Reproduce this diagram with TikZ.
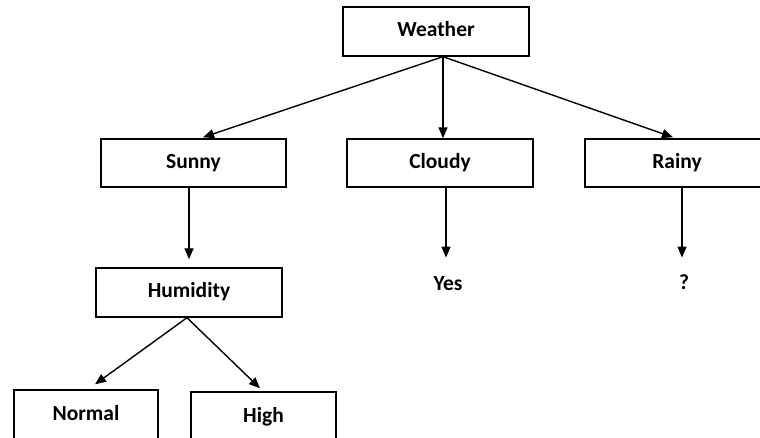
\documentclass[tikz,border=0pt]{standalone}
\usepackage{fontspec}
\setmainfont{Carlito}
\usetikzlibrary{arrows.meta}

\tikzset{
  box/.style={draw, line width=1.4pt, inner sep=0pt,
    font=\fontsize{21.5}{25}\selectfont\bfseries,
    text height=13.5pt, text depth=3pt},
  leaf/.style={inner sep=0pt,
    font=\fontsize{21.5}{25}\selectfont\bfseries,
    text height=13.5pt, text depth=3pt},
  arr/.style={line width=1.4pt, -{Triangle[length=11pt,width=9pt]}}
}

\begin{document}
\begin{tikzpicture}[x=1pt,y=-1pt]
  \useasboundingbox (0,0) rectangle (760,438);

  % decision nodes
  \node[box, minimum width=186pt, minimum height=49pt] (Weather)  at (436,31.5) {Weather};
  \node[box, minimum width=185pt, minimum height=48pt] (Sunny)    at (193.5,163) {Sunny};
  \node[box, minimum width=186pt, minimum height=48pt] (Cloudy)   at (440,163) {Cloudy};
  \node[box, minimum width=184pt, minimum height=48pt] (Rainy)    at (677,163) {Rainy};
  \node[box, minimum width=186pt, minimum height=49pt] (Humidity) at (189,292.5) {Humidity};
  \node[box, minimum width=144pt, minimum height=50pt] (Normal)   at (86,415) {Normal};
  \node[box, minimum width=145pt, minimum height=50pt] (High)     at (263.5,417) {High};

  % outcomes
  \node[leaf] (Yes)     at (448,285.5) {Yes};
  \node[leaf] (Unknown) at (684,284.5) {?};

  % branching point under the root
  \coordinate (hub) at ([xshift=7pt]Weather.south);

  \draw[arr] (hub) -- ([xshift=9.5pt,yshift=1pt]Sunny.north);
  \draw[arr] (hub) -- (hub |- Cloudy.north);
  \draw[arr] (hub) -- ([xshift=-4pt,yshift=1pt]Rainy.north);

  \draw[arr] (Sunny.south -| Humidity.north) -- ([yshift=8pt]Humidity.north);
  \draw[arr] ([xshift=6pt]Cloudy.south) -- ([xshift=-2pt,yshift=19.5pt]Yes.north);
  \draw[arr] ([xshift=5pt]Rainy.south) -- ([xshift=-2pt,yshift=18.5pt]Unknown.north);

  \draw[arr] ([xshift=-2pt]Humidity.south) -- ([xshift=9pt,yshift=5pt]Normal.north);
  \draw[arr] ([xshift=-2pt]Humidity.south) -- ([xshift=-3.5pt,yshift=3pt]High.north);
\end{tikzpicture}
\end{document}
